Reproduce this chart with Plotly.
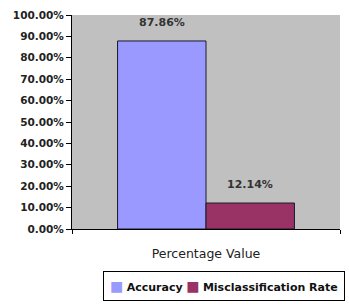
import plotly.graph_objects as go

categories = ["Percentage Value"]
series_names = ["Accuracy", "Misclassification Rate"]
values = [87.86, 12.14]
colors = ["#9999FF", "#993366"]
tick_vals = [0, 10, 20, 30, 40, 50, 60, 70, 80, 90, 100]
tick_text = ["%.2f%%" % v for v in tick_vals]

FONT = "DejaVu Sans"

fig = go.Figure()
for name, v, c in zip(series_names, values, colors):
    fig.add_trace(go.Bar(
        x=categories, y=[v], name=name,
        marker=dict(color=c, line=dict(color="#1a1a2a", width=1)),
        showlegend=False,
    ))

# data labels
offsets = [-44, 44]
for v, dx in zip(values, offsets):
    fig.add_annotation(
        x=categories[0], y=v, xref="x", yref="y",
        text="<b>%.2f%%</b>" % v, showarrow=False,
        xshift=dx, yanchor="bottom", yshift=10,
        font=dict(family=FONT, size=11, color="#333333"),
    )

plot_w = 349 - 72 - 9
plot_h = 308 - 13 - 79

# legend box
legend_parts = []
for name, c in zip(series_names, colors):
    legend_parts.append("<span style='color:%s;font-size:14px'>■</span> <b>%s</b>" % (c, name))
fig.add_annotation(
    x=(224 - 72) / plot_w, y=(308 - 79 - 287) / plot_h,
    xref="paper", yref="paper", xanchor="center", yanchor="middle",
    text=" ".join(legend_parts), showarrow=False,
    font=dict(family=FONT, size=11, color="#111111"),
    bordercolor="black", borderwidth=1, borderpad=6,
    bgcolor="white",
)

fig.update_layout(
    width=349, height=308,
    margin=dict(l=72, r=9, t=13, b=79),
    paper_bgcolor="white", plot_bgcolor="#C0C0C0",
    barmode="group", bargap=0.34, bargroupgap=0,
    font=dict(family=FONT, size=11, color="#222222"),
    showlegend=False,
)

fig.update_xaxes(
    showline=True, linecolor="black", linewidth=1,
    ticks="outside", tickson="boundaries", ticklen=4, tickcolor="black",
    showticklabels=False,
    title=dict(text="Percentage Value", font=dict(family=FONT, size=12.5, color="#222222"), standoff=20),
)
fig.update_yaxes(
    range=[0, 100], tickvals=tick_vals, ticktext=tick_text,
    showline=True, linecolor="black", linewidth=1,
    ticks="outside", ticklen=5, tickcolor="black",
    showgrid=False, zeroline=False,
    tickfont=dict(family=FONT, size=10.5, color="#222222", weight="bold"),
)

fig.write_html("out.html")
